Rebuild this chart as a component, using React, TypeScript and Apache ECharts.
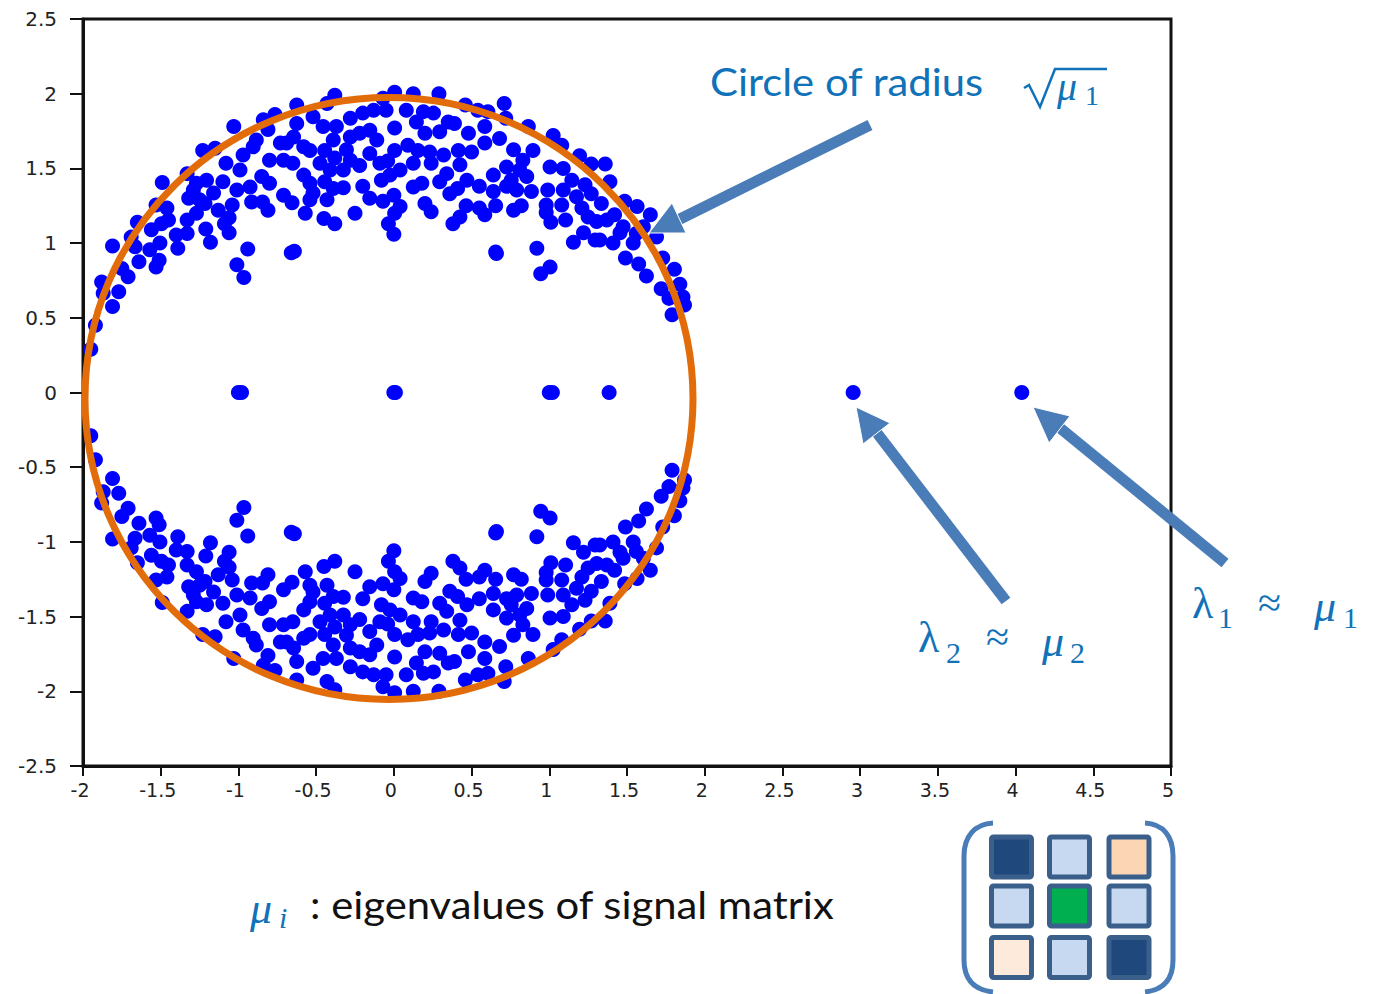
import React, { useEffect, useRef } from "react";
import * as echarts from "echarts";

const xTicks = [-2, -1.5, -1, -0.5, 0, 0.5, 1, 1.5, 2, 2.5, 3, 3.5, 4, 4.5, 5];
const realEigenvalues = [-1.0, -0.98, 0, 0.01, 1.0, 1.02, 1.385, 2.955, 4.04];
const upperLeft = [
  [-1.81,0.98],[-1.88,0.74],[-1.77,0.675],[-1.81,0.575],[-1.87,0.665],[-1.71,0.775],[-1.75,0.83],[-1.64,0.875],[-1.53,0.84],[-1.51,0.885],[-1.39,0.965],[-1.18,1.005],[-1.06,1.07],[-1.21,1.095],[-0.94,0.96],[-1.01,0.855],[-0.965,0.77],[-0.66,0.935],[-0.64,0.945],[-0.25,1.2],[-0.38,1.13],[-0.45,1.165],[-0.57,1.2],
  [-1.95,0.29],[-1.92,0.45],[-1.65,1.14],[-1.69,1.04],[-1.49,1.405],[-1.53,1.255],[-1.03,1.78],[-1.23,1.62],[-1.15,1.635],[-1.09,1.13],[-1.06,1.17],[-1.04,1.255],[-1.13,1.22],[-0.81,1.22],[-0.915,1.275],[-0.845,1.275],[-0.71,1.32],[-0.655,1.27],[-0.54,1.29],[-0.43,1.29],[-0.325,1.37],[-0.39,1.365],
  [-0.84,1.825],[-0.765,1.86],[-0.625,1.925],[-0.38,1.99],[-0.43,1.935],[-0.07,1.97],
  [-0.69,1.67],[-0.73,1.67],[-0.81,1.76],[-0.905,1.645],[-0.97,1.59],[-0.885,1.69],[-1.08,1.535],[-0.99,1.49],[-0.8,1.555],[-0.71,1.555],[-0.65,1.535],[-0.58,1.455],[-0.54,1.4],[-0.85,1.445],[-0.8,1.4],[-0.925,1.375],[-1.01,1.355],[-1.1,1.41],[-1.205,1.42],[-1.16,1.335],[-1.29,1.355],[-1.25,1.29],[-1.32,1.3],[-1.27,1.4],[-1.33,1.465],[-1.46,1.235],[-1.495,1.13],[-1.56,1.09],[-1.505,1.0],[-1.57,0.955],[-1.33,1.065],[-1.4,1.055],[-1.33,1.155],[-1.27,1.2],[-1.215,1.265],[-1.45,1.155],[-1.665,0.975],
  [-0.625,1.8],[-0.645,1.71],[-0.52,1.845],[-0.455,1.78],[-0.37,1.78],[-0.39,1.69],[-0.445,1.62],[-0.54,1.62],[-0.58,1.645],[-0.475,1.535],[-0.38,1.57],[-0.41,1.49],[-0.445,1.41],[-0.52,1.335],[-0.325,1.49],[-0.28,1.555],[-0.22,1.52],[-0.155,1.6],[-0.09,1.535],[-0.2,1.38],[-0.155,1.3],[-0.08,1.42],[-0.025,1.455],[-0.28,1.835],[-0.22,1.735],[-0.155,1.755],[-0.11,1.69],[-0.28,1.71],[-0.305,1.625],[-0.2,1.87],[-0.13,1.89],[-0.05,1.89],
  [-0.07,1.28],[-0.035,1.13],[-0.04,1.55],
];
const upperRight = [
  [0.005,2.01],[0.125,2.0],[0.29,2.0],[0.71,1.935],[0.46,1.925],[0.54,1.89],[0.605,1.88],[0.72,1.835],[0.865,1.78],[1.025,1.72],[1.08,1.655],[1.195,1.585],[1.27,1.53],[1.36,1.53],[1.39,1.41],[1.485,1.28],[1.565,1.245],[1.65,1.19],[1.69,1.04],[1.73,0.9],[1.805,0.825],[1.84,0.725],[1.86,0.64],[1.87,0.585],[1.79,0.52],[1.77,0.63],[1.72,0.695],[1.625,0.78],[1.575,0.86],[1.49,0.9],[1.41,1.0],[1.295,1.02],[1.325,1.02],[1.22,1.07],[1.155,1.005],[1.105,1.155],[1.01,1.14],[0.98,1.205],[0.98,1.255],[0.99,1.355],[0.92,0.965],[1.005,0.84],[0.945,0.795],[0.655,0.94],[0.66,0.93],[0.38,1.13],[0.425,1.175],[0.465,1.25],[0.24,1.21],[0.2,1.265],[0.0,1.06],[0.585,1.19],[0.55,1.235],[0.655,1.25],[0.77,1.22],[0.82,1.25],[0.885,1.345],[0.64,1.345],[0.55,1.38],[0.47,1.42],[0.41,1.365],[0.36,1.33],[0.64,1.455],
  [0.005,1.2],[0.04,1.245],[0.0,1.32],[0.125,1.375],[0.18,1.4],[0.295,1.41],[0.34,1.465],[0.425,1.525],[0.125,1.535],[0.04,1.49],[0.24,1.535],[0.32,1.59],[0.415,1.62],[0.48,1.735],[0.585,1.78],[0.585,1.67],[0.5,1.61],[0.68,1.7],[0.77,1.625],[0.83,1.555],[0.725,1.51],[0.81,1.49],[0.755,1.42],[0.855,1.445],[0.725,1.38],[0.79,1.355],[0.895,1.62],[1.005,1.51],[1.09,1.5],[1.145,1.42],[1.09,1.355],[1.175,1.31],[1.08,1.255],[1.21,1.235],[1.25,1.175],[1.305,1.145],[1.37,1.155],[1.335,1.265],[1.27,1.33],[1.23,1.39],[1.42,1.19],[1.475,1.11],[1.54,1.0],[1.56,1.065],[1.455,1.07],[1.605,1.11],
  [0.08,1.89],[0.19,1.88],[0.255,1.87],[0.35,1.81],[0.39,1.8],[0.145,1.81],[0.005,1.77],[0.2,1.735],[0.295,1.745],[0.005,1.62],[0.09,1.655],[0.23,1.61],[0.155,1.62],
];
const complexUpper = [...upperLeft, ...upperRight];
// The spectrum of a real matrix holds conjugate pairs.
const complexLower = complexUpper.map(([re, im]) => [re, -im]);

const ARROW = "#4a7db8";
const TEXT_BLUE = "#1072b8";
const MATH = "Liberation Serif";
const SANS = "Lato";
const matrixColors = [
  ["#1f497d", "#c6d9f1", "#fcd5b5"],
  ["#c6d9f1", "#00b050", "#c6d9f1"],
  ["#fdeada", "#c6d9f1", "#1f497d"],
];

function txt(text: string, x: number, y: number, font: string, fill: string, scaleX = 1) {
  return {
    type: "text", x, y, scaleX, z: 120,
    style: { text, x: 0, y: 0, font, fill, textAlign: "left", textVerticalAlign: "middle" },
  };
}
function arrow(x1: number, y1: number, x2: number, y2: number, head: number[][]) {
  return [
    { type: "line", z: 110, shape: { x1, y1, x2, y2 }, style: { stroke: ARROW, lineWidth: 11 } },
    { type: "polygon", z: 111, shape: { points: head }, style: { fill: ARROW, stroke: "#fff", lineWidth: 1 } },
  ];
}

echarts.graphic.registerShape("bracketL", echarts.graphic.extendPath("M993 823 C975 824 964 836 964 856 L964 960 C964 980 975 990 993 992", {}));
echarts.graphic.registerShape("bracketR", echarts.graphic.extendPath("M1145 823 C1163 824 1173 836 1173 856 L1173 960 C1173 980 1163 990 1145 992", {}));

export default function App() {
  const ref = useRef<HTMLDivElement>(null);
  useEffect(() => {
    const chart = echarts.init(ref.current!, undefined, { renderer: "svg" });
    const colX = [989, 1047, 1106.5];
    const rowY = [834.5, 883.5, 935];
    const cells: any[] = [];
    matrixColors.forEach((row, r) =>
      row.forEach((fill, c) =>
        cells.push({
          type: "rect", z: 100,
          shape: { x: colX[c] + 2.5, y: rowY[r] + 2.5, width: 40, height: 40, r: 2 },
          style: { fill, stroke: "#3a5f8b", lineWidth: 5 },
        })
      )
    );
    chart.setOption({
      animation: false,
      backgroundColor: "#fff",
      grid: { left: 83, top: 19, width: 1088, height: 747, show: true, borderColor: "#111", borderWidth: 3, backgroundColor: "transparent" },
      xAxis: {
        type: "value", min: xTicks[0], max: xTicks[xTicks.length - 1], interval: 0.5,
        splitLine: { show: false },
        axisLine: { onZero: false, lineStyle: { color: "#111", width: 3 } },
        axisTick: { length: 10, lineStyle: { color: "#111", width: 2 } },
        axisLabel: { color: "#222", fontFamily: "DejaVu Sans", fontSize: 19, margin: 14, padding: [0, 6, 0, 0], formatter: (v: number) => String(v) },
      },
      yAxis: {
        type: "value", min: -2.5, max: 2.5, interval: 0.5,
        splitLine: { show: false },
        axisLine: { onZero: false, lineStyle: { color: "#111", width: 3 } },
        axisTick: { length: 13, lineStyle: { color: "#111", width: 2 } },
        axisLabel: { color: "#222", fontFamily: "DejaVu Sans", fontSize: 20, margin: 26, formatter: (v: number) => String(v) },
      },
      series: [
        { name: "upper", type: "scatter", symbolSize: 15, itemStyle: { color: "#0000ff", opacity: 1 }, data: complexUpper },
        { name: "lower", type: "scatter", symbolSize: 15, itemStyle: { color: "#0000ff", opacity: 1 }, data: complexLower },
        { name: "real", type: "scatter", symbolSize: 15, itemStyle: { color: "#0000ff", opacity: 1 }, data: realEigenvalues.map((v) => [v, 0]) },
      ],
      graphic: {
        elements: [
          { type: "ellipse", z: 105, shape: { cx: 389, cy: 398.5, rx: 304, ry: 301 }, style: { fill: "none", stroke: "#e36c0a", lineWidth: 7 } },
          ...arrow(870, 125, 678, 220, [[649, 233], [672, 203], [686, 233]]),
          ...arrow(1006, 601, 877, 433, [[856, 407], [890, 423], [863, 444]]),
          ...arrow(1225, 563, 1060, 428, [[1033, 407], [1070, 416], [1049, 443]]),
          txt("Circle of radius", 710, 82, `38px ${SANS}`, TEXT_BLUE, 1.1),
          { type: "polyline", z: 120, shape: { points: [[1024, 88], [1029, 85], [1040, 107], [1055, 69], [1107, 69]] }, style: { fill: "none", stroke: TEXT_BLUE, lineWidth: 2.5 } },
          txt("μ", 1057, 86, `italic 40px ${MATH}`, TEXT_BLUE),
          txt("1", 1085, 95, `28px ${MATH}`, TEXT_BLUE),
          txt("λ", 1192, 603, `44px ${MATH}`, TEXT_BLUE),
          txt("1", 1218, 617, `30px ${MATH}`, TEXT_BLUE),
          txt("≈", 1258, 603, `42px ${MATH}`, TEXT_BLUE),
          txt("μ", 1314, 606, `italic 44px ${MATH}`, TEXT_BLUE),
          txt("1", 1343, 617, `30px ${MATH}`, TEXT_BLUE),
          txt("λ", 918, 637, `44px ${MATH}`, TEXT_BLUE),
          txt("2", 946, 652, `30px ${MATH}`, TEXT_BLUE),
          txt("≈", 986, 637, `42px ${MATH}`, TEXT_BLUE),
          txt("μ", 1042, 641, `italic 44px ${MATH}`, TEXT_BLUE),
          txt("2", 1070, 652, `30px ${MATH}`, TEXT_BLUE),
          txt("μ", 250, 908, `italic 44px ${MATH}`, TEXT_BLUE),
          txt("i", 279, 917, `italic 30px ${MATH}`, TEXT_BLUE),
          txt(": eigenvalues of signal matrix", 310, 905, `38px ${SANS}`, "#111", 1.1),
          { type: "bracketL", z: 100, style: { fill: "none", stroke: ARROW, lineWidth: 5 } },
          { type: "bracketR", z: 100, style: { fill: "none", stroke: ARROW, lineWidth: 5 } },
          ...cells,
        ],
      },
    });
    return () => chart.dispose();
  }, []);
  return <div ref={ref} style={{ position: "absolute", left: 0, top: 0, width: 1375, height: 994 }} />;
}
